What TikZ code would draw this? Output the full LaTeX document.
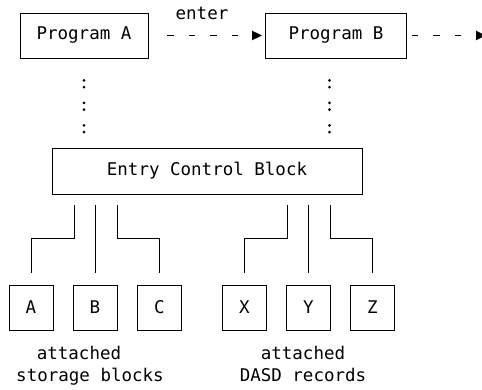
\documentclass[tikz,border=0pt]{standalone}
\usepackage{fontspec}
\newfontfamily\diagmono{DejaVu Sans Mono}
\usetikzlibrary{arrows.meta}
\begin{document}
\begin{tikzpicture}[x=1pt,y=1pt,
  every node/.style={font=\diagmono\fontsize{17.5}{22}\selectfont, inner sep=0pt},
  box/.style={draw, line width=0.8pt},
  smallbox/.style={box, minimum width=44pt, minimum height=45pt},
  wire/.style={line width=0.8pt},
  colons/.style={line width=3pt, line cap=round, dash pattern=on 0pt off 6.8pt on 0pt off 15.7pt},
  flow/.style={line width=1.8pt, dash pattern=on 6.5pt off 15pt, -{Triangle[length=10pt,width=9pt]}}]
\useasboundingbox (0,0) rectangle (482,-390);
% top row
\node[box, minimum width=128pt, minimum height=45pt] (pa) at (84,-35.5) {Program A};
\node[box, minimum width=141pt, minimum height=45pt] (pb) at (336,-35.5) {Program B};
\node[anchor=base] (enter) at (202,-20) {enter};
\coordinate (out) at (486,-35.5);
\draw[flow, shorten <=19pt, shorten >=3pt] (pa.east) -- (pb.west);
\draw[flow, shorten <=5pt] (pb.east) -- (out);
% control block
\node[box, minimum width=310pt, minimum height=46pt] (ecb) at (207,-171) {Entry Control Block};
\draw[colons, shorten <=22pt, shorten >=14.5pt] (pa.south) -- (pa.south |- ecb.north);
\draw[colons, shorten <=22pt, shorten >=14.5pt] ([xshift=-6.5pt]pb.south) -- ([xshift=-6.5pt]pb.south |- ecb.north);
% attached items
\node[smallbox] (ba) at (31,-307.5) {A};
\node[smallbox] (bb) at (95,-307.5) {B};
\node[smallbox] (bc) at (159.5,-307.5) {C};
\node[smallbox] (bx) at (244.5,-307.5) {X};
\node[smallbox] (by) at (308.5,-307.5) {Y};
\node[smallbox] (bz) at (372.5,-307.5) {Z};
% wires
\draw[wire, shorten >=12pt] ([xshift=-133pt,yshift=-11pt]ecb.south) |- ([yshift=46pt]ba.north) -- (ba.north);
\draw[wire, shorten <=11pt, shorten >=12pt] (ecb.south -| bb.north) -- (bb.north);
\draw[wire, shorten >=12pt] ([xshift=-90pt,yshift=-11pt]ecb.south) |- ([yshift=46pt]bc.north) -- (bc.north);
\draw[wire, shorten >=12pt] ([xshift=80pt,yshift=-11pt]ecb.south) |- ([yshift=46pt]bx.north) -- (bx.north);
\draw[wire, shorten <=11pt, shorten >=12pt] (ecb.south -| by.north) -- (by.north);
\draw[wire, shorten >=12pt] ([xshift=123pt,yshift=-11pt]ecb.south) |- ([yshift=46pt]bz.north) -- (bz.north);
% captions
\node[anchor=base] (lab1) at (79,-359) {attached};
\node[anchor=base] (lab2) at (90,-381) {storage blocks};
\node[anchor=base] (lab3) at (303,-359) {attached};
\node[anchor=base] (lab4) at (303,-381) {DASD records};
\end{tikzpicture}
\end{document}
